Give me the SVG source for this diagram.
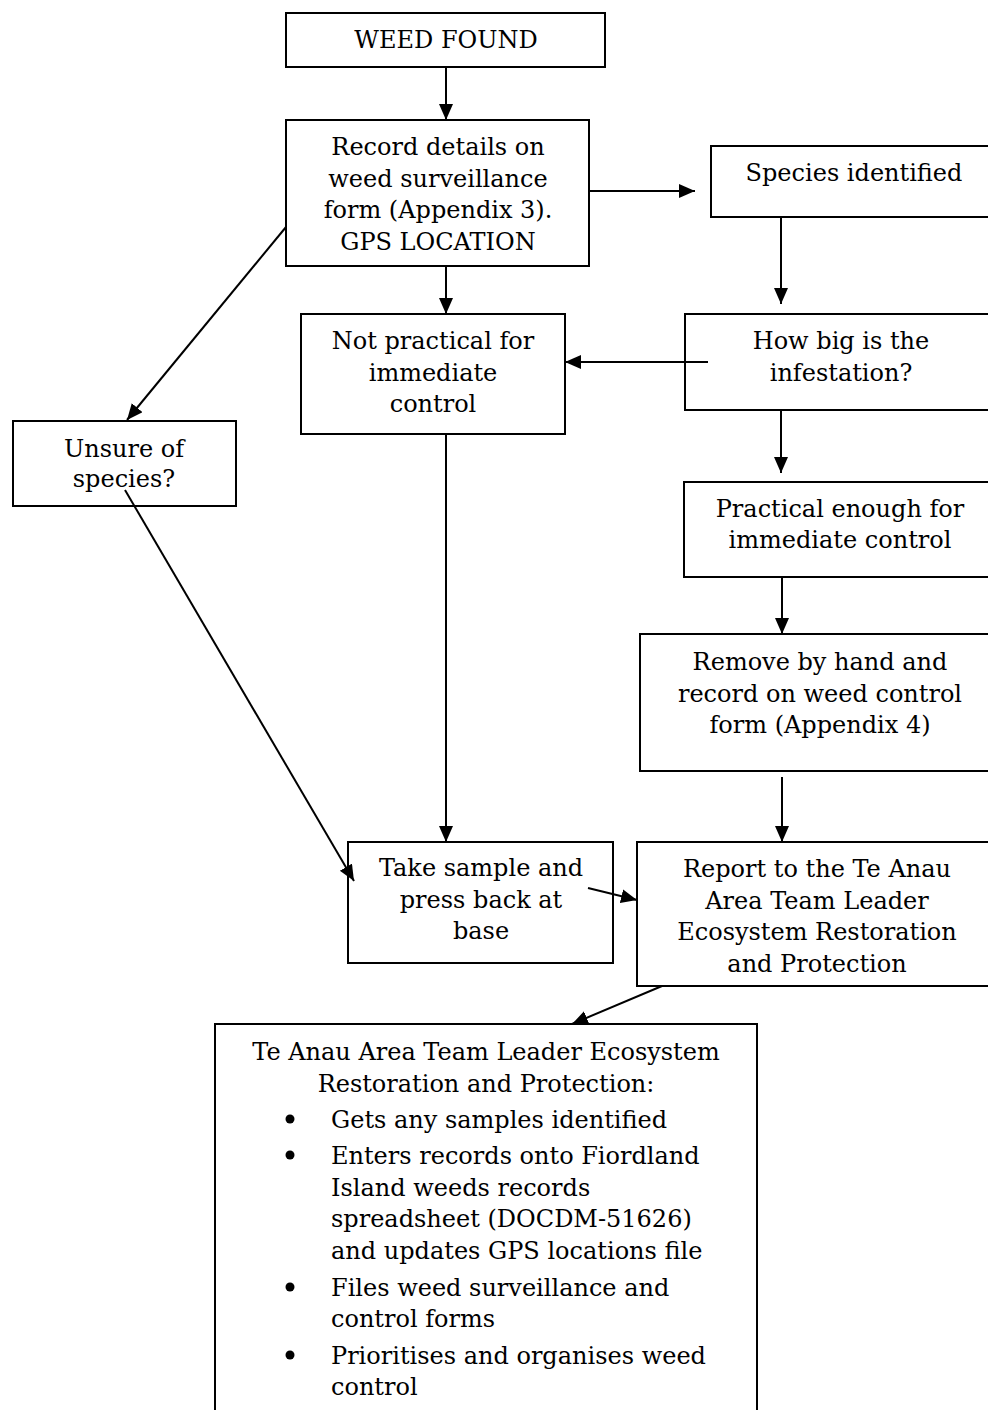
<svg xmlns="http://www.w3.org/2000/svg" width="988" height="1410" viewBox="0 0 988 1410">
<style>
.box{fill:#fff;stroke:#000;stroke-width:2}
.t{font-family:"DejaVu Serif","Liberation Serif",serif;font-size:24px;fill:#000;text-anchor:middle}
.l{font-family:"DejaVu Serif","Liberation Serif",serif;font-size:24px;fill:#000}
.c{stroke:#000;stroke-width:2;fill:none;marker-end:url(#ah)}
</style>
<defs>
<marker id="ah" markerUnits="userSpaceOnUse" markerWidth="17" markerHeight="15" refX="16" refY="7" orient="auto"><path d="M0,0 L16,7 L0,14 z" fill="#000"/></marker>
</defs>
<rect width="988" height="1410" fill="#fff"/>
<g id="weed-found">
<rect class="box" x="286" y="13" width="319" height="54"/>
<text class="t" x="446" y="48">WEED FOUND</text>
</g>
<g id="record-details">
<rect class="box" x="286" y="120" width="303" height="146"/>
<text class="t" x="438" y="155">Record details on</text>
<text class="t" x="438" y="187">weed surveillance</text>
<text class="t" x="438" y="218">form (Appendix 3).</text>
<text class="t" x="438" y="250">GPS LOCATION</text>
</g>
<g id="species-identified">
<rect class="box" x="711" y="146" width="287" height="71"/>
<text class="t" x="854" y="181">Species identified</text>
</g>
<g id="not-practical">
<rect class="box" x="301" y="314" width="264" height="120"/>
<text class="t" x="433" y="349">Not practical for</text>
<text class="t" x="433" y="381">immediate</text>
<text class="t" x="433" y="412">control</text>
</g>
<g id="how-big">
<rect class="box" x="685" y="314" width="313" height="96"/>
<text class="t" x="841" y="349">How big is the</text>
<text class="t" x="841" y="381">infestation?</text>
</g>
<g id="unsure">
<rect class="box" x="13" y="421" width="223" height="85"/>
<text class="t" x="124" y="457">Unsure of</text>
<text class="t" x="124" y="487">species?</text>
</g>
<g id="practical-enough">
<rect class="box" x="684" y="482" width="314" height="95"/>
<text class="t" x="840" y="517">Practical enough for</text>
<text class="t" x="840" y="548">immediate control</text>
</g>
<g id="remove-by-hand">
<rect class="box" x="640" y="634" width="358" height="137"/>
<text class="t" x="820" y="670">Remove by hand and</text>
<text class="t" x="820" y="702">record on weed control</text>
<text class="t" x="820" y="733">form (Appendix 4)</text>
</g>
<g id="take-sample">
<rect class="box" x="348" y="842" width="265" height="121"/>
<text class="t" x="481" y="876">Take sample and</text>
<text class="t" x="481" y="908">press back at</text>
<text class="t" x="481" y="939">base</text>
</g>
<g id="report">
<rect class="box" x="637" y="842" width="361" height="144"/>
<text class="t" x="817" y="877">Report to the Te Anau</text>
<text class="t" x="817" y="909">Area Team Leader</text>
<text class="t" x="817" y="940">Ecosystem Restoration</text>
<text class="t" x="817" y="972">and Protection</text>
</g>
<g id="team-leader">
<rect class="box" x="215" y="1024" width="542" height="400"/>
<text class="t" x="486" y="1060">Te Anau Area Team Leader Ecosystem</text>
<text class="t" x="486" y="1092">Restoration and Protection:</text>
<g fill="#000">
<circle cx="290" cy="1119" r="4.5"/>
<circle cx="290" cy="1155" r="4.5"/>
<circle cx="290" cy="1287" r="4.5"/>
<circle cx="290" cy="1355" r="4.5"/>
</g>
<text class="l" x="331" y="1128">Gets any samples identified</text>
<text class="l" x="331" y="1164">Enters records onto Fiordland</text>
<text class="l" x="331" y="1196">Island weeds records</text>
<text class="l" x="331" y="1227">spreadsheet (DOCDM-51626)</text>
<text class="l" x="331" y="1259">and updates GPS locations file</text>
<text class="l" x="331" y="1296">Files weed surveillance and</text>
<text class="l" x="331" y="1327">control forms</text>
<text class="l" x="331" y="1364">Prioritises and organises weed</text>
<text class="l" x="331" y="1395">control</text>
</g>
<g id="connectors">
<line class="c" x1="446" y1="67" x2="446" y2="120"/>
<line class="c" x1="589" y1="191" x2="695" y2="191"/>
<line class="c" x1="446" y1="266" x2="446" y2="314"/>
<line class="c" x1="286" y1="227" x2="127" y2="420"/>
<line class="c" x1="781" y1="217" x2="781" y2="304"/>
<line class="c" x1="708" y1="362" x2="565" y2="362"/>
<line class="c" x1="781" y1="410" x2="781" y2="473"/>
<line class="c" x1="782" y1="577" x2="782" y2="634"/>
<line class="c" x1="446" y1="434" x2="446" y2="842"/>
<line class="c" x1="125" y1="490" x2="354" y2="881"/>
<line class="c" x1="782" y1="777" x2="782" y2="842"/>
<line class="c" x1="588" y1="888" x2="637" y2="900"/>
<line class="c" x1="662" y1="986" x2="572" y2="1024"/>
</g>
</svg>
